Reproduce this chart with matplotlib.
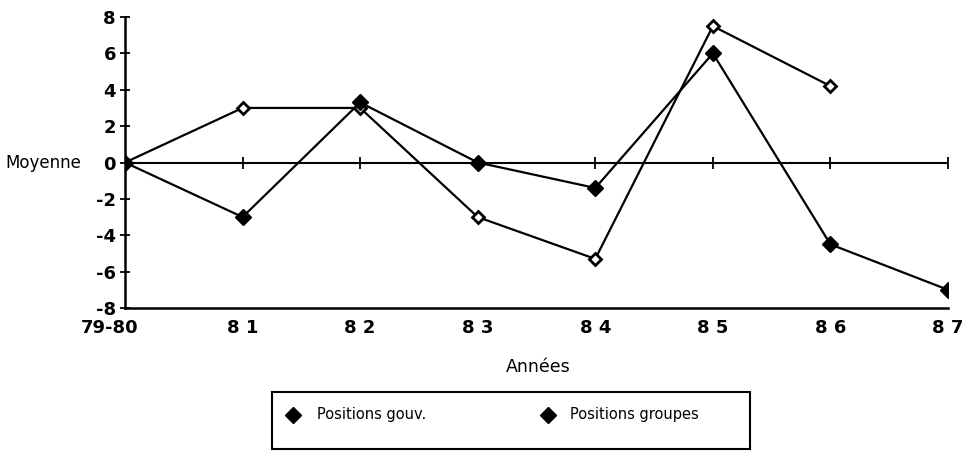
import numpy as np
import matplotlib
matplotlib.use("Agg")
import matplotlib.pyplot as plt
from matplotlib.lines import Line2D
from matplotlib.patches import Rectangle
from matplotlib.transforms import ScaledTranslation

# data
annees = ["79-80", "8 1", "8 2", "8 3", "8 4", "8 5", "8 6", "8 7"]
gouv = [0, 3, 3, -3, -5.3, 7.5, 4.2]            # open markers, stops at 86
groupes = [0, -3, 3.3, 0, -1.4, 6, -4.5, -7]    # filled markers
yticks = [-8, -6, -4, -2, 0, 2, 4, 6, 8]
noms = ["Positions gouv.", "Positions groupes"]

plt.rcParams['font.family'] = ['DejaVu Sans']

W, H = 968, 451
fig = plt.figure(figsize=(W/100, H/100), dpi=100)
ax = fig.add_axes([125/W, 1-308/H, (948-125)/W, (308-17)/H])

x = np.arange(len(annees))

# zero line with small category ticks
ax.axhline(0, color='black', lw=1.5, zorder=1)
ax.plot(x, np.zeros(len(x)), ls='none', marker='|', ms=8, mew=1.3,
        color='black', zorder=1)

ax.plot(x[:len(gouv)], gouv, color='black', lw=1.6, marker='D', ms=6.5,
        mfc='white', mec='black', mew=2, zorder=3)
ax.plot(x, groupes, color='black', lw=1.6, marker='D', ms=8,
        mfc='black', mec='black', zorder=3)

ax.set_xlim(0, len(annees)-1)
ax.set_ylim(-8, 8)
ax.set_yticks(yticks)
ax.set_yticklabels([str(v) for v in yticks])
ax.set_xticks(x)
ax.set_xticklabels(annees)
ax.tick_params(axis='y', direction='inout', length=7, width=1.3,
               labelsize=13, pad=3)
ax.tick_params(axis='x', length=0, labelsize=13, pad=8)
for t in ax.get_yticklabels() + ax.get_xticklabels():
    t.set_fontweight('bold')
# first label sits a bit left of its category in the original
lab0 = ax.xaxis.get_major_ticks()[0].label1
lab0.set_transform(lab0.get_transform() +
                   ScaledTranslation(-0.15, 0, fig.dpi_scale_trans))

ax.spines['top'].set_visible(False)
ax.spines['right'].set_visible(False)
ax.spines['left'].set_linewidth(1.8)
ax.spines['bottom'].set_linewidth(1.8)

fig.text(5/W, 1-163/H, "Moyenne", fontsize=12, ha='left', va='center')
fig.text(538/W, 1-367/H, "Années", fontsize=12.5, ha='center', va='center')

# legend box, drawn by hand to match the original frame
fig.add_artist(Rectangle((272/W, 1-449/H), (750-272)/W, (449-392)/H,
                         transform=fig.transFigure, fill=False,
                         edgecolor='black', lw=1.5))
for mx, tx, nom in zip([293, 548], [317, 570], noms):
    fig.add_artist(Line2D([mx/W], [1-415/H], transform=fig.transFigure,
                          ls='none', marker='D', ms=8, color='black'))
    fig.text(tx/W, 1-415/H, nom, fontsize=10.5, ha='left', va='center')

fig.savefig("out.png", dpi=100)
